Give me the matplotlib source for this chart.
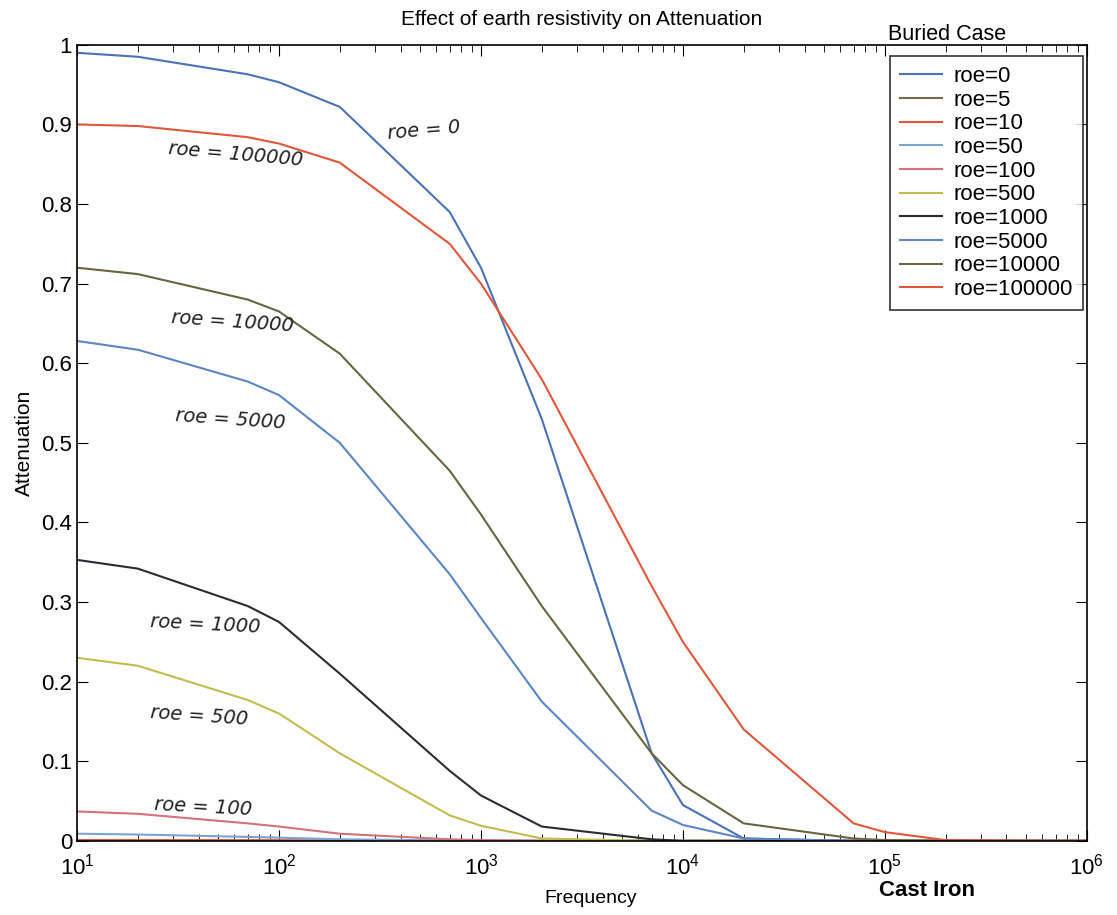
import numpy as np
import matplotlib
matplotlib.use("Agg")
import matplotlib.pyplot as plt

plt.rcParams["font.family"] = ["Liberation Sans", "DejaVu Sans"]
plt.rcParams["mathtext.fontset"] = "custom"
plt.rcParams["mathtext.rm"] = "Liberation Sans"

# frequency samples (Hz)
freq = [10, 20, 70, 100, 200, 700, 1000, 2000, 7000, 10000, 20000, 70000,
        100000, 200000, 700000, 1000000]

labels = ["roe=0", "roe=5", "roe=10", "roe=50", "roe=100", "roe=500",
          "roe=1000", "roe=5000", "roe=10000", "roe=100000"]

att_0 = [0.99, 0.985, 0.963, 0.953, 0.922, 0.79, 0.72, 0.53, 0.11, 0.045,
         0.003, 0, 0, 0, 0, 0]
att_5 = [0.0005, 0.0005, 0.0004, 0.0003, 0.0002, 0.0001, 0, 0, 0, 0,
         0, 0, 0, 0, 0, 0]
att_10 = [0.001, 0.001, 0.0008, 0.0007, 0.0004, 0.0001, 0, 0, 0, 0,
          0, 0, 0, 0, 0, 0]
att_50 = [0.009, 0.008, 0.005, 0.004, 0.002, 0.0005, 0.0003, 0, 0, 0,
          0, 0, 0, 0, 0, 0]
att_100 = [0.037, 0.034, 0.022, 0.018, 0.009, 0.002, 0.001, 0.0002, 0, 0,
           0, 0, 0, 0, 0, 0]
att_500 = [0.23, 0.22, 0.177, 0.16, 0.11, 0.032, 0.019, 0.003, 0, 0,
           0, 0, 0, 0, 0, 0]
att_1000 = [0.353, 0.342, 0.295, 0.275, 0.21, 0.088, 0.057, 0.018, 0.002, 0,
            0, 0, 0, 0, 0, 0]
att_5000 = [0.628, 0.617, 0.577, 0.56, 0.50, 0.335, 0.28, 0.175, 0.038, 0.02,
            0.003, 0, 0, 0, 0, 0]
att_10000 = [0.72, 0.712, 0.68, 0.665, 0.612, 0.465, 0.41, 0.295, 0.11, 0.07,
             0.022, 0.003, 0.001, 0, 0, 0]
att_100000 = [0.90, 0.898, 0.884, 0.876, 0.852, 0.75, 0.70, 0.58, 0.32, 0.25,
              0.14, 0.022, 0.011, 0.001, 0, 0]

series = [att_0, att_5, att_10, att_50, att_100, att_500, att_1000,
          att_5000, att_10000, att_100000]
colors = ["#4a72b8", "#6e6c4c", "#e2553b", "#7aa3d2", "#d4727a", "#c4bc4e",
          "#2c2a33", "#5b86c6", "#6a6440", "#e0573a"]

# handwritten notes on the chart
notes = ["roe = 0", "roe = 100000", "roe = 10000", "roe = 5000",
         "roe = 1000", "roe = 500", "roe = 100"]
note_x = [340, 28, 29, 30.5, 23, 23, 24]
note_y = [0.893, 0.862, 0.652, 0.53, 0.272, 0.157, 0.043]
note_rot = [5, -5, -4, -4, -3, -4, -3]

fig = plt.figure(figsize=(11.17, 9.15), dpi=100)
ax = fig.add_axes([0.069, 0.081, 0.904, 0.870])

for y, c, lab in zip(series, colors, labels):
    ax.plot(freq, y, color=c, lw=1.5, label=lab)

ax.set_xscale("log")
ax.set_xlim(10, 1e6)
ax.set_ylim(0, 1)
ax.set_yticks(np.arange(0, 1.01, 0.1))
ax.set_yticklabels(["0", "0.1", "0.2", "0.3", "0.4", "0.5", "0.6", "0.7",
                    "0.8", "0.9", "1"])
ax.tick_params(which="both", direction="in", top=True, right=True,
               labelsize=16)
ax.tick_params(axis="x", which="major", pad=9)
ax.tick_params(which="major", length=8)
ax.tick_params(which="minor", length=5)
for s in ax.spines.values():
    s.set_linewidth(1.2)

for t, x, y, r in zip(notes, note_x, note_y, note_rot):
    ax.text(x, y, t, fontsize=14, rotation=r, family=["DejaVu Sans"],
            color="#222222", style="italic", va="center", ha="left")

ax.set_title("Effect of earth resistivity on Attenuation", fontsize=15,
             pad=14)
ax.set_xlabel("Frequency", fontsize=14)
ax.xaxis.set_label_coords(0.509, -0.062)
ax.set_ylabel("Attenuation", fontsize=15, labelpad=5)

leg = ax.legend(loc="upper right", bbox_to_anchor=(0.996, 0.986),
                fontsize=16, frameon=True, fancybox=False, edgecolor="black",
                handlelength=1.9, handletextpad=0.5, labelspacing=0.12,
                borderpad=0.45, borderaxespad=0)
leg.get_frame().set_linewidth(1.2)

fig.text(0.795, 0.962, "Buried Case", fontsize=15.5, ha="left", va="center")
fig.text(0.787, 0.027, "Cast Iron", fontsize=16, fontweight="bold",
         ha="left", va="center")

fig.savefig("out.png", dpi=100)
